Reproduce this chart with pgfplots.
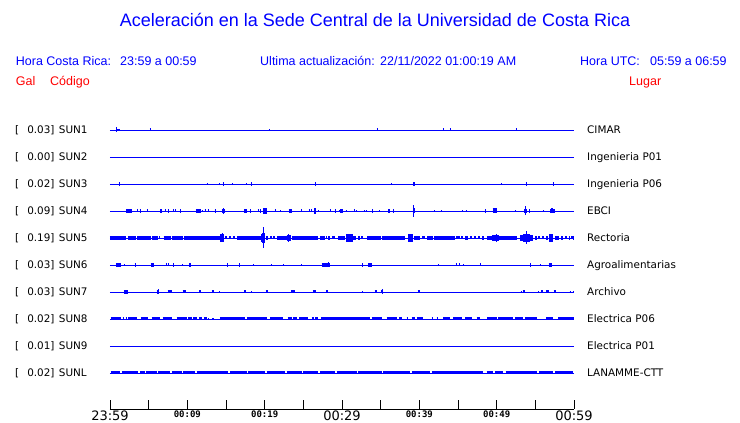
\documentclass[border=0pt]{standalone}
\usepackage{fontspec}
\setmainfont{Liberation Sans}
\newfontfamily\dvs{DejaVu Sans}
\newfontfamily\dvsm{DejaVu Sans Mono}
\usepackage{pgfplots}
\usepackage{pgfplotstable}
\pgfplotsset{compat=1.18}

% x0, x1 in minutes after 23:59; h = trace height in pt
\pgfplotstableread{
x0 x1 h
0.78 0.95 5
0.95 1.29 2.5
5.15 5.28 3
20.55 20.68 2.5
34.50 34.63 3
43.04 43.17 3
43.94 44.07 3
52.48 52.61 3
}\sunone
\pgfplotstableread{
x0 x1 h
1.14 1.27 3.5
12.52 12.64 2
14.07 14.19 2
14.59 14.71 3.5
15.75 15.87 2
17.62 17.74 2
18.21 18.33 3.5
26.49 26.61 3.5
36.32 36.44 2.5
39.20 39.40 3.5
50.54 50.66 2.5
53.77 53.89 3.5
57.26 57.38 3.5
}\sunthree
\pgfplotstableread{
x0 x1 h
2.07 2.81 3.5
3.53 3.66 3
3.82 4.01 3.5
4.76 4.88 3
6.50 6.72 3.5
7.11 7.20 3
7.50 7.63 3.5
8.16 8.26 3
8.45 8.55 3
9.08 9.21 3.5
11.12 11.73 3.5
11.85 11.95 2.5
12.23 12.33 3
12.66 12.76 3
13.56 13.69 3.5
14.44 14.87 3.5
14.60 14.72 5.5
17.33 17.68 3.5
18.12 18.26 3.5
19.13 19.23 3
19.39 19.49 3.5
19.82 20.30 5.5
21.33 21.43 3
22.02 22.12 2.5
23.11 23.57 4.5
24.74 24.84 3
25.72 25.82 3
25.98 26.08 3
26.42 26.60 6
26.89 26.99 2.5
28.44 28.54 3
29.09 29.26 3.5
29.60 29.70 2.5
29.74 30.09 3.5
30.51 30.61 2.5
31.54 31.64 3
31.80 31.90 2.5
32.83 32.93 2.5
33.09 33.19 2.5
33.90 34.05 3.5
34.82 34.92 2.5
36.00 36.16 3.5
36.62 36.77 3.5
39.15 39.45 5
39.17 39.30 12.7
41.94 42.04 2.5
42.79 42.89 2.5
45.51 45.61 2.5
46.02 46.12 2.5
48.50 48.66 3.5
49.49 50.00 5
52.36 52.46 2.5
53.57 53.96 3.5
53.70 53.85 9
54.22 54.32 3.5
56.03 56.13 2.5
56.90 57.50 3.5
57.08 57.29 5
}\sunfour
\pgfplotstableread{
x0 x1 h
0.00 2.03 4
2.29 3.36 4
3.53 5.30 4
5.47 6.25 4
6.34 6.53 3
6.94 7.85 4
7.98 9.40 4
9.57 14.22 4
14.22 14.78 7.7
14.42 14.55 9
14.87 15.13 3
15.39 15.65 3
15.90 16.16 3
16.38 19.53 4
19.53 20.04 8
19.70 20.00 10.7
19.78 19.90 21
20.13 20.43 3.5
20.69 20.95 3
21.08 21.34 3
21.56 22.85 4
22.85 23.37 6.3
23.05 23.18 7.5
23.50 26.94 4
27.16 27.80 4
27.93 28.10 3
28.23 28.45 3.5
28.70 29.09 3
29.52 30.39 4.7
30.52 31.38 8.3
31.46 31.81 3.5
32.07 32.33 3.5
32.46 32.72 3
33.27 35.00 4
35.13 38.15 4
38.57 39.22 7.7
38.80 38.93 8.5
39.31 40.09 4
40.34 40.73 3
41.03 41.81 4
41.94 44.61 4
44.74 45.26 3
45.39 45.65 3
45.91 46.30 3.5
46.55 46.81 3
47.07 47.33 3
47.59 47.85 3
48.10 48.36 3.5
48.71 51.30 4
49.40 50.30 6
49.85 49.98 8.3
51.30 52.59 4
53.02 54.74 5.5
53.44 54.35 8
53.82 53.95 13
55.00 55.26 3.5
55.35 55.60 3
55.86 56.12 3
56.38 56.64 3.5
56.81 57.32 7.7
57.00 57.13 8.5
57.54 58.06 4
58.32 58.58 3.5
58.84 59.10 3
59.29 59.48 3.5
59.61 59.87 3
59.90 60.00 3.5
}\sunfive
\pgfplotstableread{
x0 x1 h
0.78 1.38 3.3
1.80 1.90 2.5
3.17 3.30 3.5
5.26 5.69 3.5
5.50 5.60 4.5
7.23 7.33 3
7.49 7.59 3
8.17 8.30 3.5
9.35 9.45 2.5
10.28 10.41 3.5
15.19 15.32 3.5
16.70 16.83 3.5
18.48 18.58 2.5
20.81 20.91 2
22.36 22.46 2.5
24.74 24.84 2.5
27.37 28.45 3.5
28.18 28.30 5
32.62 32.75 3.5
33.40 33.84 3.5
42.40 42.50 2.5
44.73 44.83 3
45.12 45.22 3
45.69 45.79 2
47.83 47.93 3
54.33 54.46 3.5
55.59 55.69 2.5
56.73 57.19 3.5
}\sunsix
\pgfplotstableread{
x0 x1 h
1.81 2.29 3.3
6.04 6.37 3.5
6.19 6.31 5
7.46 7.98 3
9.40 9.79 3
11.51 11.81 3
13.15 13.41 3
14.08 14.18 2.5
17.37 17.55 3
18.27 18.37 2.5
20.13 20.39 3
23.44 23.88 3
26.25 26.60 3
27.93 28.15 3
32.57 32.67 2.5
34.23 34.49 3
35.00 35.34 3
35.12 35.24 5
39.79 40.05 3
53.10 53.20 2.5
53.37 53.62 3
55.39 55.49 2.5
55.73 55.95 3
56.38 56.81 3
57.37 57.63 3
59.43 59.53 2.5
59.86 59.96 2.5
}\sunseven
\pgfplotstableread{
x0 x1 h
0.09 1.38 3
1.64 1.81 3
2.03 2.20 3
2.37 3.45 3
3.97 4.95 3
5.39 6.47 3
6.81 7.98 3
8.62 9.92 3
10.13 10.56 3
10.77 11.29 3
11.55 11.86 3
12.16 12.50 3
12.67 12.80 2.5
13.20 13.40 2.5
14.22 17.46 3
17.68 20.26 3
20.69 22.41 3
22.98 23.50 3
23.62 24.14 3
24.44 25.64 3
26.08 26.42 3
26.51 26.94 3
27.28 33.62 3
33.84 35.13 3
35.78 37.07 3
37.41 37.72 3
38.36 38.57 3
39.01 39.44 3
39.66 40.51 3
41.60 41.81 3
42.24 42.45 3
43.10 43.97 3
44.39 45.48 3
45.91 46.77 3
47.42 47.85 3
48.79 50.00 3
50.21 52.15 3
52.37 53.44 3
53.66 55.18 3
56.38 57.32 3
57.97 60.00 3
}\suneight
\pgfplotstableread{
x0 x1 h
0.09 1.29 3
1.51 3.66 3
3.88 4.53 3
4.62 6.04 3
6.25 7.76 3
7.98 9.27 3
9.48 10.99 3
11.21 15.30 3
15.52 17.68 3
17.88 20.04 3
20.26 22.63 3
22.85 24.79 3
25.00 26.94 3
27.16 29.09 3
29.31 31.90 3
32.11 35.13 3
35.34 38.79 3
39.01 41.38 3
41.60 48.27 3
48.71 49.56 3
49.78 50.86 3
51.17 55.18 3
55.47 57.32 3
57.54 59.91 3
}\sunl

\pgfplotsset{
  blob/.style={blue,
    visualization depends on={\thisrow{h} \as \blobh},
    quiver={u=\thisrow{x1}-\thisrow{x0}, v=0,
      every arrow/.append style={line width=\blobh pt, line cap=butt}}},
}
\newcommand\bigt{\dvs\fontsize{13}{13}\selectfont}
\newcommand\smt{\dvsm\bfseries\fontsize{9}{9}\selectfont}

\begin{document}
\begin{tikzpicture}
\useasboundingbox (-110pt,-14pt) rectangle (630pt,409pt);
\begin{axis}[
  at={(0pt,0pt)}, anchor=south west,
  scale only axis, width=464pt, height=306pt,
  xmin=0, xmax=60, ymin=-10.3333, ymax=1,
  axis x line*=bottom, axis y line=none,
  xtick={0,5,...,60},
  xticklabels={{\bigt 23:59},{},{\smt 00:09},{},{\smt 00:19},{},{\bigt 00:29},{},{\smt 00:39},{},{\smt 00:49},{},{\bigt 00:59}},
  tick align=inside, major tick length=8.6pt,
  x axis line style={-, line width=0.9pt, black},
  every tick/.style={black, line width=0.9pt},
  xticklabel style={anchor=north, inner sep=0pt, yshift=-1.8pt},
  clip=false,
]
\pgfplotsinvokeforeach{0,...,9}{\addplot[blue, line width=0.85pt] coordinates {(0,-#1) (60,-#1)};}
\addplot[blob] table[x=x0, y expr=0] {\sunone};
\addplot[blob] table[x=x0, y expr=-2] {\sunthree};
\addplot[blob] table[x=x0, y expr=-3] {\sunfour};
\addplot[blob] table[x=x0, y expr=-4] {\sunfive};
\addplot[blob] table[x=x0, y expr=-5] {\sunsix};
\addplot[blob] table[x=x0, y expr=-6] {\sunseven};
\addplot[blob] table[x=x0, y expr=-7] {\suneight};
\addplot[blob] table[x=x0, y expr=-9] {\sunl};
\end{axis}

% title and header
\node[blue, anchor=base, inner sep=0pt, font=\fontsize{18}{18}\selectfont] at (265pt,382pt) {Aceleración en la Sede Central de la Universidad de Costa Rica};
\begin{scope}[every node/.style={anchor=base west, inner sep=0pt, font=\fontsize{12.5}{12.5}\selectfont}]
\node[blue] at (-94.3pt,343.3pt) {Hora Costa Rica:};
\node[blue] at (10pt,343.3pt) {23:59 a 00:59};
\node[blue] at (150pt,343.3pt) {Ultima actualización:};
\node[blue] at (270pt,343.3pt) {22/11/2022 01:00:19 AM};
\node[blue] at (470pt,343.3pt) {Hora UTC:};
\node[blue] at (540pt,343.3pt) {05:59 a 06:59};
\node[red] at (-94.3pt,323.7pt) {Gal};
\node[red] at (-60pt,323.7pt) {Código};
\node[red] at (519pt,323.7pt) {Lugar};
\end{scope}

% station labels
\foreach \k/\v/\c/\p in {0/0.03/SUN1/CIMAR, 1/0.00/SUN2/Ingenieria P01, 2/0.02/SUN3/Ingenieria P06, 3/0.09/SUN4/EBCI, 4/0.19/SUN5/Rectoria, 5/0.03/SUN6/Agroalimentarias, 6/0.03/SUN7/Archivo, 7/0.02/SUN8/Electrica P06, 8/0.01/SUN9/Electrica P01, 9/0.02/SUNL/LANAMME-CTT}{
  \pgfmathsetmacro\yy{279-27*\k-3.8}
  \node[anchor=base west, inner sep=0pt, font=\dvs\fontsize{10.4}{10.4}\selectfont] at (-95pt,\yy pt) {[};
  \node[anchor=base east, inner sep=0pt, font=\dvs\fontsize{10.4}{10.4}\selectfont] at (-55.3pt,\yy pt) {\v]};
  \node[anchor=base west, inner sep=0pt, font=\dvs\fontsize{10.4}{10.4}\selectfont] at (-51.3pt,\yy pt) {\c};
  \node[anchor=base west, inner sep=0pt, font=\dvs\fontsize{10.4}{10.4}\selectfont] at (477pt,\yy pt) {\p};
}
\end{tikzpicture}
\end{document}
